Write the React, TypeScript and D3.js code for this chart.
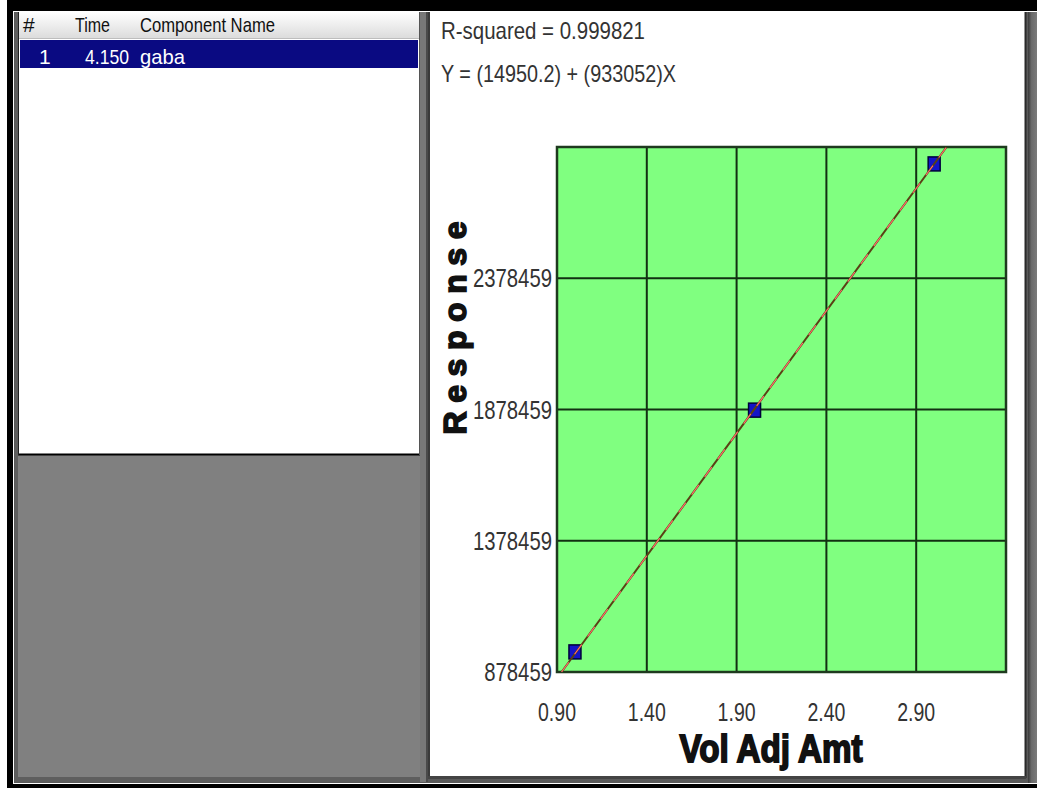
import React from "react";
import * as d3 from "d3";

const xTicks = [0.9, 1.4, 1.9, 2.4, 2.9];
const yTicks = [878459, 1378459, 1878459, 2378459];
const amounts = [1.0, 2.0, 3.0];
const responses = [955000, 1876000, 2814000];
const intercept = 14950.2;
const slope = 933052;
const rSquared = "0.999821";
const listHeaders = ["#", "Time", "Component Name"];
const listRow = ["1", "4.150", "gaba"];

const NARROW = "'Liberation Sans Narrow', 'Liberation Sans', Arial, sans-serif";
const HEAVY = "'Liberation Sans', Arial, sans-serif";

export default function App() {
  const W = 1037, H = 788;
  const plot = { x0: 557, x1: 1006, y0: 147, y1: 672 };
  const x = d3.scaleLinear().domain([0.9, 3.4]).range([plot.x0, plot.x1]);
  const y = d3.scaleLinear().domain([878459, 2878459]).range([plot.y1, plot.y0]);
  const xa = (y.domain()[0] - intercept) / slope;
  const xb = (y.domain()[1] - intercept) / slope;
  const linePath = d3.line<number>()(
    [[x(xa), y(intercept + slope * xa)], [x(xb), y(intercept + slope * xb)]] as any
  );
  const hdrX = [23, 75, 140];
  const hdrW = [0, 35, 135];
  const rowX = [39, 85, 140];
  const rowW = [0, 44, 45];
  const rText = `R-squared = ${rSquared}`;
  const eqText = `Y = (${intercept}) + (${slope})X`;

  return (
    <div style={{ position: "fixed", left: 0, top: 0 }}>
      <svg width={W} height={H} style={{ display: "block" }}>
        <defs>
          <linearGradient id="hdrV" x1="0" x2="0" y1="0" y2="1">
            <stop offset="0" stopColor="#ffffff" />
            <stop offset="1" stopColor="#dcdcdc" />
          </linearGradient>
          <linearGradient id="rightStrip" x1="0" x2="1" y1="0" y2="0">
            <stop offset="0" stopColor="#3a3a3a" />
            <stop offset="0.4" stopColor="#6a6a6a" />
            <stop offset="1" stopColor="#7a7a7a" />
          </linearGradient>
          <clipPath id="plotClip">
            <rect x={plot.x0} y={plot.y0 - 6} width={plot.x1 - plot.x0} height={plot.y1 - plot.y0 + 8} />
          </clipPath>
        </defs>
        {/* background & frame */}
        <rect x={0} y={0} width={W} height={H} fill="#ffffff" />
        <rect x={7} y={0} width={W - 7} height={H} fill="#000000" />
        <rect x={13} y={11} width={W - 13} height={H - 15} fill="#ffffff" />
        <rect x={14} y={12} width={W - 14} height={H - 17} fill="#5a5a5a" />
        <rect x={1028} y={12} width={9} height={H - 17} fill="url(#rightStrip)" />
        {/* left gray area */}
        <rect x={15} y={12} width={413} height={770} fill="#808080" />
        <rect x={15} y={12} width={3} height={770} fill="#5e5e5e" />
        <rect x={15} y={777} width={413} height={5} fill="#5e5e5e" />
        <rect x={420} y={12} width={8} height={770} fill="#787878" />
        <rect x={426} y={12} width={2} height={770} fill="#4a4a4a" />
        {/* list box */}
        <rect x={18} y={12} width={402} height={443} fill="#ffffff" />
        <rect x={18} y={12} width={402} height={26} fill="url(#hdrV)" />
        <line x1={18} x2={420} y1={38.5} y2={38.5} stroke="#bdbdbd" />
        <rect x={20} y={40} width={398} height={28} fill="#0a0a82" />
        <line x1={18} x2={420} y1={454.5} y2={454.5} stroke="#000" strokeWidth={2} />
        <line x1={18.5} x2={18.5} y1={12} y2={455} stroke="#222" />
        <line x1={419.5} x2={419.5} y1={12} y2={455} stroke="#555" />
        {hdrX.map((px, i) => (
          <text key={"h" + i} x={px} y={32} fontFamily={NARROW} fontSize={21} fill="#111"
            {...(hdrW[i] ? { textLength: hdrW[i], lengthAdjust: "spacingAndGlyphs" } : {})}>
            {listHeaders[i]}
          </text>
        ))}
        {rowX.map((px, i) => (
          <text key={"r" + i} x={px} y={64} fontFamily={NARROW} fontSize={21} fill="#ffffff"
            {...(rowW[i] ? { textLength: rowW[i], lengthAdjust: "spacingAndGlyphs" } : {})}>
            {listRow[i]}
          </text>
        ))}
        {/* right panel */}
        <rect x={428} y={12} width={598} height={766} fill="#ffffff" />
        <line x1={429} x2={429} y1={12} y2={778} stroke="#3a3a3a" strokeWidth={2} />
        <line x1={1025.5} x2={1025.5} y1={12} y2={778} stroke="#2a2a2a" strokeWidth={2} />
        <line x1={428} x2={1026} y1={777.5} y2={777.5} stroke="#444" strokeWidth={3} />
        <text x={441} y={39} fontFamily={NARROW} fontSize={24} fill="#333"
          textLength={204} lengthAdjust="spacingAndGlyphs">
          {rText}
        </text>
        <text x={441} y={82} fontFamily={NARROW} fontSize={24} fill="#333"
          textLength={235} lengthAdjust="spacingAndGlyphs">
          {eqText}
        </text>
        {/* plot */}
        <rect x={plot.x0} y={plot.y0} width={plot.x1 - plot.x0} height={plot.y1 - plot.y0} fill="#80ff80" />
        {xTicks.slice(1).map((t) => (
          <line key={"gx" + t} x1={x(t)} x2={x(t)} y1={plot.y0} y2={plot.y1} stroke="#123012" strokeWidth={2} />
        ))}
        {yTicks.slice(1).map((t) => (
          <line key={"gy" + t} x1={plot.x0} x2={plot.x1} y1={y(t)} y2={y(t)} stroke="#123012" strokeWidth={2} />
        ))}
        <rect x={plot.x0} y={plot.y0} width={plot.x1 - plot.x0} height={plot.y1 - plot.y0} fill="none" stroke="#1e3a1e" strokeWidth={2.5} />
        {amounts.map((a, i) => (
          <rect key={"m" + i} x={x(a) - 6} y={y(responses[i]) - 7} width={12} height={14} fill="#1414c8" stroke="#00003a" strokeWidth={1.5} />
        ))}
        <g clipPath="url(#plotClip)">
          <path d={linePath || ""} stroke="#5a4014" strokeWidth={2} fill="none" />
          <path d={linePath || ""} stroke="#ff6a6a" strokeWidth={1.2} strokeDasharray="12 10" fill="none" />
        </g>
        {/* axes labels */}
        {xTicks.map((t) => (
          <text key={"xl" + t} x={x(t)} y={721} textAnchor="middle" fontFamily={NARROW} fontSize={26} fill="#333"
            textLength={38} lengthAdjust="spacingAndGlyphs">
            {t.toFixed(2)}
          </text>
        ))}
        {yTicks.map((t) => (
          <text key={"yl" + t} x={552} y={y(t) + 9} textAnchor="end" fontFamily={NARROW} fontSize={26} fill="#333"
            textLength={String(t).length * 11.3} lengthAdjust="spacingAndGlyphs">
            {t}
          </text>
        ))}
        <text
          transform={`translate(466,328) rotate(-90)`}
          textAnchor="middle"
          fontFamily={HEAVY}
          fontWeight={900}
          fontSize={32}
          fill="#111"
          stroke="#111"
          strokeWidth={1.6}
          textLength={213}
          lengthAdjust="spacing"
        >
          Response
        </text>
        <text
          x={771}
          y={762}
          textAnchor="middle"
          fontFamily={HEAVY}
          fontWeight={700}
          fontSize={38}
          fill="#111"
          stroke="#111"
          strokeWidth={1.8}
          textLength={183}
          lengthAdjust="spacingAndGlyphs"
        >
          Vol Adj Amt
        </text>
      </svg>
    </div>
  );
}
